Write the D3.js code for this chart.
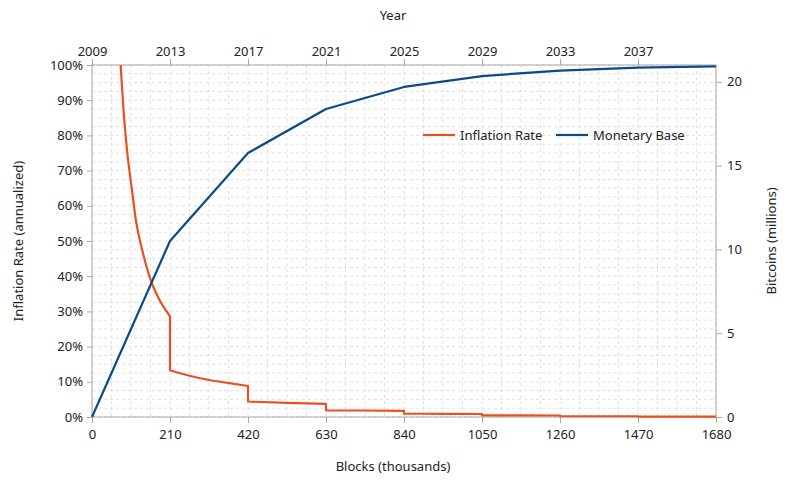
<!DOCTYPE html>
<html>
<head>
<meta charset="utf-8">
<script src="https://cdn.jsdelivr.net/npm/d3@7"></script>
<style>
  body { margin: 0; background: #fff; }
  text { font-family: "Noto Sans", sans-serif; fill: #222; }
</style>
</head>
<body>
<div id="chart"></div>
<script>
// inflation rate (annualized, %), by blocks (thousands)
// each era listed separately; the halvings are the vertical drops between them
const inflationBlocks = [
    [77, 85, 95, 107, 118, 135, 156, 183, 210],
    [210, 260, 315, 370, 420],
    [420, 525, 630],
    [630, 735, 840],
    [840, 945, 1050],
    [1050, 1155, 1260],
    [1260, 1365, 1470],
    [1470, 1575, 1680]];
const inflationRate = [
    [100, 87, 75, 65, 56, 47.5, 39.5, 33, 28.6],
    [13.3, 11.8, 10.5, 9.6, 8.8],
    [4.4, 4.0, 3.7],
    [1.9, 1.85, 1.75],
    [0.95, 0.9, 0.85],
    [0.45, 0.44, 0.43],
    [0.23, 0.22, 0.21],
    [0.11, 0.11, 0.1]];

// monetary base (millions of coins)
const baseBlocks = [0, 210, 420, 630, 840, 1050, 1260, 1470, 1680];
const baseCoins = [0, 10.5, 15.75, 18.375, 19.69, 20.34, 20.67, 20.84, 20.92];

const blockTicks = [0, 210, 420, 630, 840, 1050, 1260, 1470, 1680];
const yearTicks = [2009, 2013, 2017, 2021, 2025, 2029, 2033, 2037];
const rateTicks = [0, 10, 20, 30, 40, 50, 60, 70, 80, 90, 100];
const coinTicks = [0, 5, 10, 15, 20];

let margin = {top: 65, right: 71, bottom: 65, left: 92},
    width = 787 - margin.left - margin.right,
    height = 482 - margin.top - margin.bottom;

let x = d3.scaleLinear().domain([0, 1680]).range([0, width]);
let xYear = d3.scaleLinear().domain([2009, 2041]).range([0, width]);
let y = d3.scaleLinear().domain([0, 100]).range([height, 0]);
let yCoins = d3.scaleLinear().domain([0, 21]).range([height, 0]);

let svg = d3.select("#chart")
    .append("svg")
        .attr("width", 787)
        .attr("height", 482)
    .append("g")
        .attr("transform", "translate(" + margin.left + "," + margin.top + ")");

// grid, quarter steps
let gx = d3.range(0, 1680.1, 52.5);
let gy = d3.range(0, 100.1, 2.5);
svg.append("g").selectAll("line").data(gx).enter().append("line")
    .attr("x1", d => x(d)).attr("x2", d => x(d))
    .attr("y1", 0).attr("y2", height)
    .attr("stroke", "#e0e0e0").attr("stroke-dasharray", "3,3");
svg.append("g").selectAll("line").data(gy).enter().append("line")
    .attr("x1", 0).attr("x2", width)
    .attr("y1", d => y(d)).attr("y2", d => y(d))
    .attr("stroke", "#e0e0e0").attr("stroke-dasharray", "3,3");

// frame
svg.append("rect")
    .attr("width", width).attr("height", height)
    .attr("fill", "none").attr("stroke", "#a8a8a8");

function styleAxis(g) {
    g.select(".domain").remove();
    g.selectAll(".tick line").attr("stroke", "#a8a8a8");
    g.selectAll(".tick text").style("font-size", "13px").attr("fill", "#222");
}

svg.append("g")
    .attr("transform", "translate(0," + height + ")")
    .call(d3.axisBottom(x).tickValues(blockTicks).tickSize(6).tickPadding(7).tickFormat(d3.format("d")))
    .call(styleAxis);

svg.append("g")
    .call(d3.axisTop(xYear).tickValues(yearTicks).tickSize(6).tickPadding(3).tickFormat(d3.format("d")))
    .call(styleAxis);

svg.append("g")
    .call(d3.axisLeft(y).tickValues(rateTicks).tickSize(5).tickPadding(4).tickFormat(d => d + "%"))
    .call(styleAxis);

svg.append("g")
    .attr("transform", "translate(" + width + ",0)")
    .call(d3.axisRight(yCoins).tickValues(coinTicks).tickSize(6).tickPadding(5))
    .call(styleAxis);

// clip
svg.append("clipPath").attr("id", "plot")
    .append("rect").attr("width", width).attr("height", height + 2).attr("y", -1);

const red = "#e9501f", blue = "#0c4a87";

// smooth curve inside each era, joined by straight drops
let eraLine = d3.line().x(d => x(d.b)).y(d => y(d.v)).curve(d3.curveMonotoneX);
let rateD = inflationBlocks.map((bs, k) => {
    let seg = eraLine(bs.map((b, i) => ({b: b, v: inflationRate[k][i]})));
    return k === 0 ? seg : "L" + seg.slice(1);
}).join("");

svg.append("path")
    .attr("clip-path", "url(#plot)")
    .attr("fill", "none").attr("stroke", red).attr("stroke-width", 2.2)
    .attr("stroke-linejoin", "round")
    .attr("d", rateD);

let baseData = baseBlocks.map((b, i) => ({b: b, v: baseCoins[i]}));
svg.append("path")
    .datum(baseData)
    .attr("fill", "none").attr("stroke", blue).attr("stroke-width", 2.2)
    .attr("stroke-linejoin", "round")
    .attr("d", d3.line().x(d => x(d.b)).y(d => yCoins(d.v)));

// legend
let legend = svg.append("g").attr("transform", "translate(331,70)");
legend.append("line").attr("x1", 0).attr("x2", 32).attr("stroke", red).attr("stroke-width", 2.2);
legend.append("text").attr("x", 37).attr("y", 5).style("font-size", "13px").text("Inflation Rate");
legend.append("line").attr("x1", 133).attr("x2", 165).attr("stroke", blue).attr("stroke-width", 2.2);
legend.append("text").attr("x", 170).attr("y", 5).style("font-size", "13px").text("Monetary Base");

// titles
let root = d3.select("svg");
root.append("text").attr("x", 393).attr("y", 20).attr("text-anchor", "middle")
    .style("font-size", "13px").text("Year");
root.append("text").attr("x", 393).attr("y", 471).attr("text-anchor", "middle")
    .style("font-size", "13px").text("Blocks (thousands)");
root.append("text").attr("transform", "translate(23,241) rotate(-90)").attr("text-anchor", "middle")
    .style("font-size", "13px").text("Inflation Rate (annualized)");
root.append("text").attr("transform", "translate(776,241) rotate(-90)").attr("text-anchor", "middle")
    .style("font-size", "13px").text("Bitcoins (millions)");
</script>
</body>
</html>
